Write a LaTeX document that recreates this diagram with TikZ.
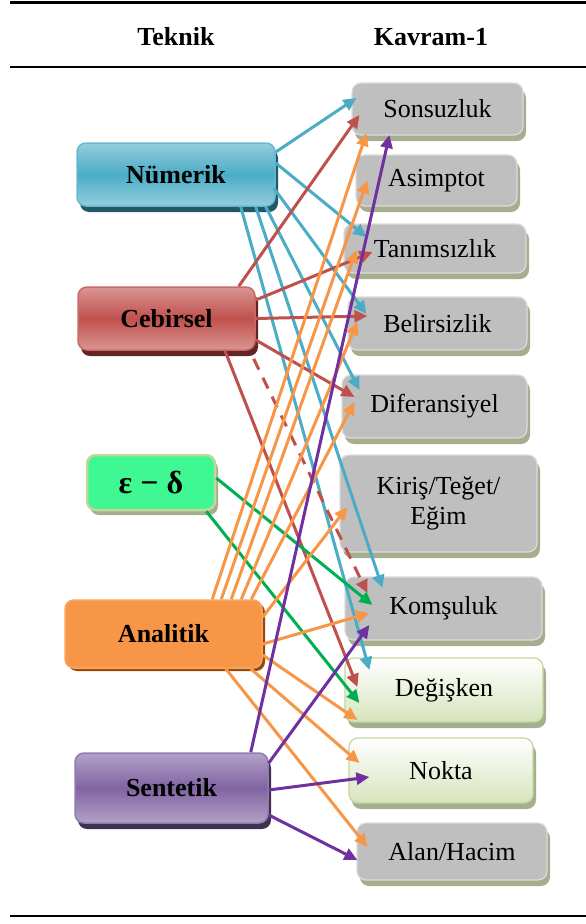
\documentclass[tikz,border=0pt]{standalone}
\usepackage{fontspec}
\setmainfont{Liberation Serif}
\usepackage{tikz}
\usetikzlibrary{arrows.meta, calc, shadows}
\definecolor{numblue}{HTML}{4BACC6}
\definecolor{numlight}{HTML}{93CDDD}
\definecolor{numdark}{HTML}{215968}
\definecolor{cebred}{HTML}{C0504D}
\definecolor{ceblight}{HTML}{DA9694}
\definecolor{cebdark}{HTML}{632523}
\definecolor{epsfill}{HTML}{40F893}
\definecolor{epsedge}{HTML}{C3D69B}
\definecolor{epsline}{HTML}{00B050}
\definecolor{anaor}{HTML}{F79646}
\definecolor{anadark}{HTML}{984807}
\definecolor{senpur}{HTML}{8064A2}
\definecolor{senlight}{HTML}{B3A2C7}
\definecolor{sendark}{HTML}{3F3151}
\definecolor{senline}{HTML}{7030A0}
\definecolor{kgray}{HTML}{BFBFBF}
\definecolor{kedge}{HTML}{DCDCDC}
\definecolor{kshadow}{HTML}{A5AE8F}
\definecolor{glight}{HTML}{D7E4BD}

\begin{document}
\begin{tikzpicture}[x=1pt, y=-1pt,
  hdr/.style={font=\fontsize{26}{30}\selectfont\bfseries},
  teknik/.style={rectangle, rounded corners=9pt, line width=1.5pt, inner sep=0pt, align=center, font=\fontsize{26}{30}\selectfont\bfseries},
  tbox/.style n args={3}{teknik, draw=#1!85!white, top color=#2, bottom color=#2, middle color=#1, drop shadow={shadow xshift=3pt, shadow yshift=-6pt, fill=#3, opacity=1}},
  epsbox/.style={teknik, draw=epsedge, line width=2.5pt, fill=epsfill, font=\fontsize{32}{36}\selectfont\bfseries, drop shadow={shadow xshift=3pt, shadow yshift=-5pt, fill=kshadow, opacity=1}},
  kavram/.style={rectangle, rounded corners=9pt, line width=1.2pt, draw=kedge, fill=kgray, inner sep=0pt, align=center, font=\fontsize{26}{30}\selectfont, drop shadow={shadow xshift=3pt, shadow yshift=-6pt, fill=kshadow, opacity=1}},
  kavramg/.style={kavram, draw=epsedge, top color=white, bottom color=glight},
  arr/.style={-{Triangle[length=13pt, width=12pt]}, line width=3pt}
]
\useasboundingbox (0,0) rectangle (586,924);
\draw[line width=3pt] (10,2) -- (586,2);
\draw[line width=2.5pt] (10,67) -- (586,67);
\draw[line width=2.5pt] (10,916) -- (586,916);
\node[hdr] (tek) at (176,37) {Teknik};
\node[hdr] (kav) at (431,37) {Kavram-1};

\node[tbox={numblue}{numlight}{numdark}, minimum width=198pt, minimum height=63pt] (num) at (176,174.5) {Nümerik};
\node[tbox={cebred}{ceblight}{cebdark}, minimum width=177pt, minimum height=63pt] (ceb) at (166.5,318.5) {Cebirsel};
\node[epsbox, minimum width=128pt, minimum height=55pt] (eps) at (151,482.5) {ε − δ};
\node[teknik, draw=anaor!85!white, fill=anaor, minimum width=197pt, minimum height=68pt, drop shadow={shadow xshift=3pt, shadow yshift=-3pt, fill=anadark, opacity=1}] (ana) at (163.5,634) {Analitik};
\node[tbox={senpur}{senlight}{sendark}, minimum width=193pt, minimum height=70pt] (sen) at (171.5,788) {Sentetik};

\node[kavram, minimum width=171pt, minimum height=52pt] (son) at (437.5,109) {Sonsuzluk};
\node[kavram, minimum width=161pt, minimum height=51pt] (asi) at (436.5,180.5) {Asimptot};
\node[kavram, minimum width=182pt, minimum height=49pt] (tan) at (435,248.5) {Tanımsızlık};
\node[kavram, minimum width=179pt, minimum height=53pt] (bel) at (437.5,323.5) {Belirsizlik};
\node[kavram, minimum width=185pt, minimum height=63pt] (dif) at (434.5,406.5) {Diferansiyel};
\node[kavram, minimum width=197pt, minimum height=97pt] (kir) at (438.5,503.5) {Kiriş/Teğet/\\Eğim};
\node[kavram, minimum width=197pt, minimum height=63pt] (kom) at (443.5,608.5) {Komşuluk};
\node[kavramg, minimum width=198pt, minimum height=64pt] (deg) at (444,690) {Değişken};
\node[kavramg, minimum width=184pt, minimum height=65pt] (nok) at (441,770.5) {Nokta};
\node[kavram, minimum width=190pt, minimum height=57pt] (ala) at (452,851.5) {Alan/Hacim};

\draw[arr, numblue] ($(num.east)+(0,-22.5)$) -- ($(son.west)+(5,-11)$);
\draw[arr, numblue] ($(num.east)+(0,-11.5)$) -- ($(tan.west)+(23,-11.5)$);
\draw[arr, numblue] ($(num.east)+(-2,13.5)$) -- ($(bel.west)+(19,-9.5)$);
\draw[arr, numblue] ($(num.south east)+(-10,0)$) -- ($(dif.west)+(18,-16.5)$);
\draw[arr, numblue] ($(num.south east)+(-20,0)$) -- ($(kom.west)+(38,-20.5)$);
\draw[arr, numblue] ($(num.south east)+(-35,0)$) -- ($(deg.west)+(25,-20)$);

\draw[arr, cebred] ($(ceb.north east)+(-17,0)$) -- ($(son.west)+(8,6)$);
\draw[arr, cebred] ($(ceb.east)+(0,-18.5)$) -- ($(tan.west)+(29,3.5)$);
\draw[arr, cebred] (ceb.east) -- ($(bel.west)+(20,-7.5)$);
\draw[arr, cebred] ($(ceb.east)+(0,21.5)$) -- ($(dif.west)+(13,-9.5)$);
\draw[arr, cebred, dash pattern=on 12pt off 9pt, dash phase=12pt] ($(ceb.south east)+(-6,0)$) -- ($(kom.west)+(23,-15.5)$);
\draw[arr, cebred] ($(ceb.south)+(58.5,0)$) -- ($(deg.west)+(13,-3)$);

\draw[arr, epsline] ($(eps.east)+(0,-4.5)$) -- ($(kom.west)+(28,-3.5)$);
\draw[arr, epsline] ($(eps.south east)+(-10,0)$) -- ($(deg.west)+(15,13)$);

\draw[arr, anaor] ($(ana.north west)+(148,0)$) -- ($(son.west)+(15,24)$);
\draw[arr, anaor] ($(ana.north west)+(157,0)$) -- ($(asi.west)+(12,0)$);
\draw[arr, anaor] ($(ana.north west)+(167,0)$) -- ($(tan.west)+(13,1.5)$);
\draw[arr, anaor] ($(ana.north west)+(177,0)$) -- ($(bel.west)+(10,-1.5)$);
\draw[arr, anaor] ($(ana.north west)+(187,0)$) -- ($(dif.west)+(13,-4.5)$);
\draw[arr, anaor] ($(ana.east)+(0,-17)$) -- ($(kir.west)+(8,3.5)$);
\draw[arr, anaor] ($(ana.east)+(0,10)$) -- ($(kom.west)+(25,4.5)$);
\draw[arr, anaor] ($(ana.east)+(0,21)$) -- ($(deg.west)+(13,30)$);
\draw[arr, anaor] ($(ana.south east)+(-12,0)$) -- ($(nok.west)+(11,-7.5)$);
\draw[arr, anaor] ($(ana.south east)+(-37,0)$) -- ($(ala.west)+(11,-4.5)$);

\draw[arr, senline] ($(sen.north east)+(-18,0)$) -- ($(son.west)+(38,26)$);
\draw[arr, senline] ($(sen.east)+(0,-25)$) -- ($(kom.west)+(25,16.5)$);
\draw[arr, senline] ($(sen.east)+(0,2)$) -- ($(nok.west)+(21,6.5)$);
\draw[arr, senline] ($(sen.east)+(0,27)$) -- ($(ala.west)+(1,8.5)$);
\end{tikzpicture}
\end{document}
